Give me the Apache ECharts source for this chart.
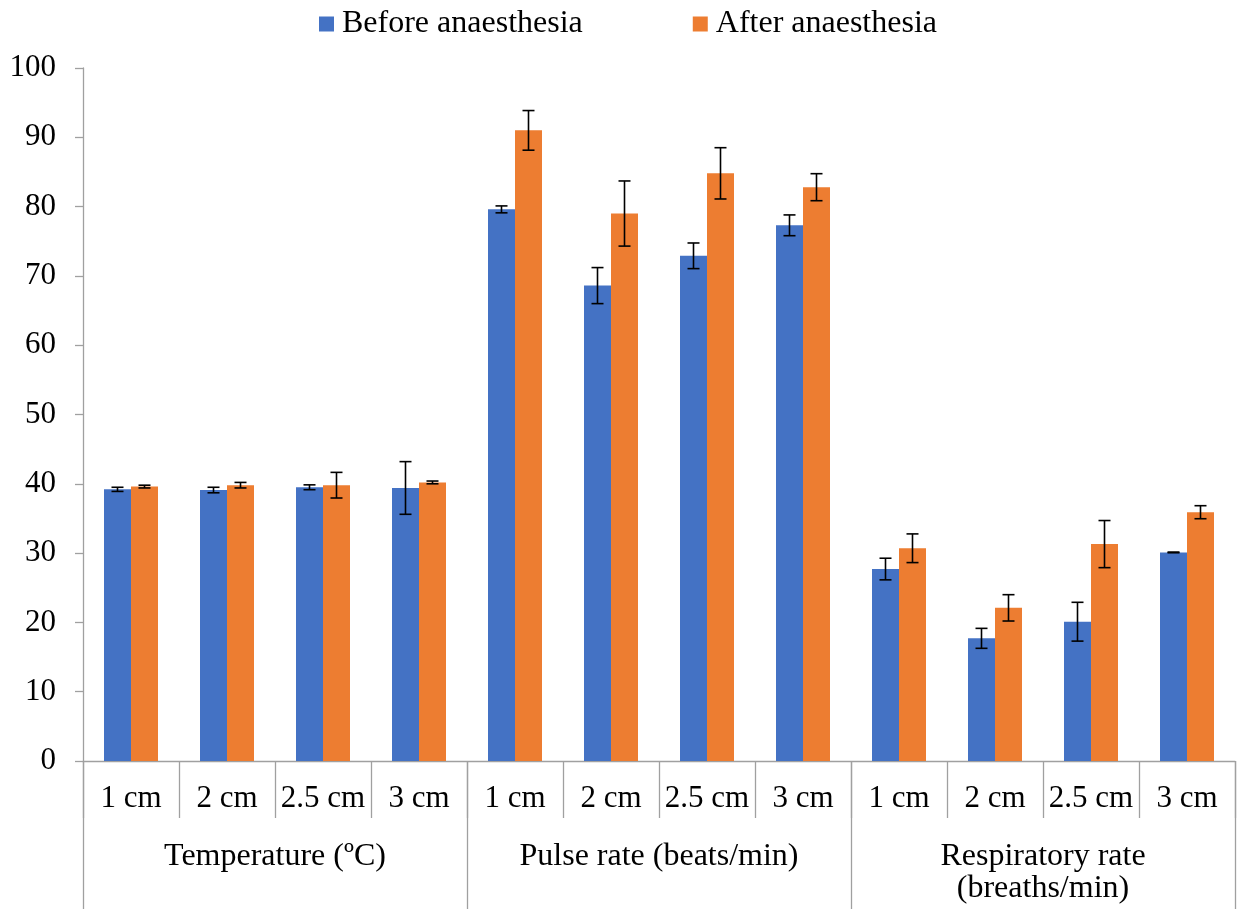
<!DOCTYPE html>
<html>
<head>
<meta charset="utf-8">
<script src="https://cdn.jsdelivr.net/npm/echarts@6/dist/echarts.min.js"></script>
<style>
html,body{margin:0;padding:0;background:#fff;}
#chart{width:1239px;height:909px;}
</style>
</head>
<body>
<div id="chart"></div>
<script>
var sizes = ['1 cm','2 cm','2.5 cm','3 cm','1 cm','2 cm','2.5 cm','3 cm','1 cm','2 cm','2.5 cm','3 cm'];
var groups = ['Temperature (ºC)','Pulse rate (beats/min)','Respiratory rate\n(breaths/min)'];
var seriesNames = ['Before anaesthesia','After anaesthesia'];
var before = [39.2, 39.1, 39.5, 39.4, 79.6, 68.6, 72.9, 77.3, 27.7, 17.7, 20.1, 30.1];
var beforeErr = [0.3, 0.4, 0.35, 3.8, 0.5, 2.6, 1.85, 1.5, 1.56, 1.44, 2.8, 0.05];
var after = [39.6, 39.8, 39.8, 40.2, 91.0, 79.0, 84.8, 82.8, 30.7, 22.1, 31.3, 35.9];
var afterErr = [0.2, 0.4, 1.85, 0.2, 2.86, 4.7, 3.7, 1.95, 2.07, 1.9, 3.4, 0.94];
var yTicks = {min: 0, max: 100, interval: 10};

var FONT = "'Liberation Serif','Times New Roman',serif";
var BAR_W = 27;
var AXIS_COLOR = '#a0a0a0';

function errSeries(vals, errs, sign) {
  return {
    type: 'custom',
    xAxisIndex: 0,
    yAxisIndex: 0,
    z: 10,
    silent: true,
    encode: {x: 0, y: 1},
    data: vals.map(function (v, i) { return [i, v, errs[i]]; }),
    renderItem: function (params, api) {
      var idx = api.value(0), v = api.value(1), e = api.value(2);
      var hi = api.coord([idx, v + e]);
      var lo = api.coord([idx, v - e]);
      var cx = hi[0] + sign * BAR_W / 2;
      var cap = 6;
      var st = {stroke: '#000', lineWidth: 1.6};
      return {
        type: 'group',
        children: [
          {type: 'line', shape: {x1: cx, y1: hi[1], x2: cx, y2: lo[1]}, style: st},
          {type: 'line', shape: {x1: cx - cap, y1: hi[1], x2: cx + cap, y2: hi[1]}, style: st},
          {type: 'line', shape: {x1: cx - cap, y1: lo[1], x2: cx + cap, y2: lo[1]}, style: st}
        ]
      };
    }
  };
}

var chart = echarts.init(document.getElementById('chart'), null, {renderer: 'canvas'});
chart.setOption({
  animation: false,
  backgroundColor: '#fff',
  textStyle: {fontFamily: FONT},
  legend: {
    data: seriesNames,
    left: 314,
    top: 3,
    itemWidth: 15,
    itemHeight: 15,
    itemGap: 110,
    icon: 'rect',
    textStyle: {fontFamily: FONT, fontSize: 32, color: '#000', padding: [0, 0, 0, 3]}
  },
  grid: {left: 83, right: 4, top: 68, bottom: 148, containLabel: false},
  xAxis: [
    {
      type: 'category',
      data: sizes,
      position: 'bottom',
      axisLine: {show: true, lineStyle: {color: AXIS_COLOR, width: 1.3}},
      axisTick: {show: true, interval: 0, length: 57, lineStyle: {color: AXIS_COLOR, width: 1.3}},
      axisLabel: {interval: 0, margin: 22, fontFamily: FONT, fontSize: 31, color: '#000'},
      splitLine: {show: false}
    },
    {
      type: 'category',
      data: groups,
      position: 'bottom',
      axisLine: {show: false},
      axisTick: {show: true, interval: 0, length: 148, lineStyle: {color: AXIS_COLOR, width: 1.3}},
      axisLabel: {interval: 0, margin: 80, fontFamily: FONT, fontSize: 32, lineHeight: 32, color: '#000'},
      splitLine: {show: false}
    }
  ],
  yAxis: {
    type: 'value',
    min: yTicks.min,
    max: yTicks.max,
    interval: yTicks.interval,
    axisLine: {show: true, lineStyle: {color: AXIS_COLOR, width: 1.3}},
    axisTick: {show: true, inside: false, length: 8, lineStyle: {color: AXIS_COLOR, width: 1.3}},
    axisLabel: {margin: 27, fontFamily: FONT, fontSize: 31, color: '#000'},
    splitLine: {show: false}
  },
  series: [
    {
      name: seriesNames[0],
      type: 'bar',
      xAxisIndex: 0,
      data: before,
      barWidth: BAR_W,
      barGap: '0%',
      itemStyle: {color: '#4472C4'}
    },
    {
      name: seriesNames[1],
      type: 'bar',
      xAxisIndex: 0,
      data: after,
      barWidth: BAR_W,
      barGap: '0%',
      itemStyle: {color: '#ED7D31'}
    },
    errSeries(before, beforeErr, -1),
    errSeries(after, afterErr, 1)
  ]
});
</script>
</body>
</html>
